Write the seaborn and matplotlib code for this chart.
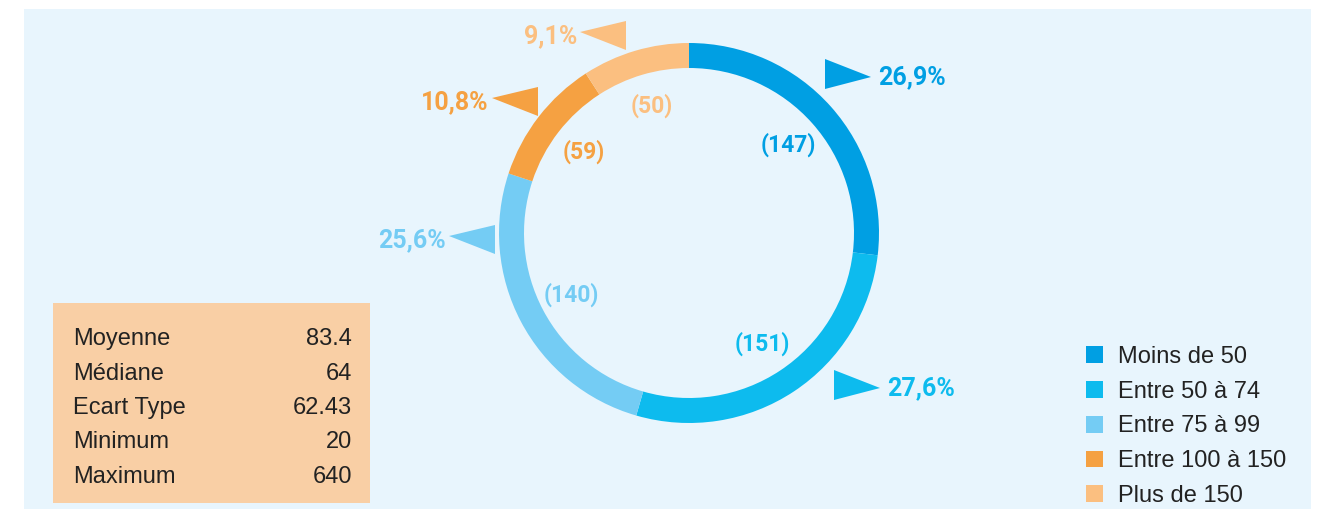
import numpy as np
import matplotlib
matplotlib.use("Agg")
import matplotlib.pyplot as plt
from matplotlib.patches import Rectangle, Polygon
import seaborn as sns

# --- data ---
categories = ["Moins de 50", "Entre 50 à 74", "Entre 75 à 99", "Entre 100 à 150", "Plus de 150"]
counts = [147, 151, 140, 59, 50]
stat_names = ["Moyenne", "Médiane", "Ecart Type", "Minimum", "Maximum"]
stat_values = ["83.4", "64", "62.43", "20", "640"]

colors = ["#009fe3", "#0dbbee", "#74ccf4", "#f5a142", "#fbbf80"]

# --- layout (pixels, origin top-left) ---
W, H = 1322, 509
CX, CY, R = 689, 233, 190
RING = 25
# pointer triangles: tip x, tip y, direction (+1 -> pointing right)
pointers = [(871, 77, 1), (880, 388, 1), (449, 236, -1), (492, 98, -1), (580, 32, -1)]

sns.set_theme(style="white")
plt.rcParams["font.family"] = ["Liberation Sans", "DejaVu Sans"]

fig = plt.figure(figsize=(W / 100, H / 100), dpi=100)
fig.patch.set_facecolor("white")

# overlay in pixel coordinates
bg = fig.add_axes([0, 0, 1, 1])
bg.set_xlim(0, W)
bg.set_ylim(H, 0)
bg.axis("off")
bg.add_patch(Rectangle((24, 9), 1311 - 24, H - 9, color="#e8f5fd", lw=0, zorder=0))

# stats box
bg.add_patch(Rectangle((53, 303), 370 - 53, 503 - 303, color="#f9cfa5", lw=0, zorder=1))
for i, (name, val) in enumerate(zip(stat_names, stat_values)):
    y = 345 + i * 34.5
    bg.text(73, y, name, fontsize=17, color="#222222", va="baseline", ha="left", zorder=2)
    bg.text(352, y, val, fontsize=17, color="#222222", va="baseline", ha="right", zorder=2)

# donut
ax = fig.add_axes([(CX - 200) / W, (H - CY - 200) / H, 400 / W, 400 / H])
ax.patch.set_alpha(0)
wedges, _ = ax.pie(counts, colors=colors, startangle=90, counterclock=False,
                   radius=1, wedgeprops=dict(width=RING / R, linewidth=0))
ax.set_xlim(-200 / R, 200 / R)
ax.set_ylim(-200 / R, 200 / R)
ax.set_aspect("equal")

total = sum(counts)
for w, c, col, (tx, ty, d) in zip(wedges, counts, colors, pointers):
    mid = np.deg2rad((w.theta1 + w.theta2) / 2)
    ax.text(0.70 * np.cos(mid), 0.70 * np.sin(mid), f"({c})", ha="center", va="center",
            fontsize=16.5, fontweight="bold", color=col, family=["Roboto", "DejaVu Sans"])
    pct = f"{100 * c / total:.1f}%".replace(".", ",")
    bx = tx - 46 * d
    if d > 0:
        tri = [(bx, ty - 18), (bx, ty + 12), (tx, ty)]
        bg.text(tx + 7, ty, pct, ha="left", va="center", fontsize=18, fontweight="bold",
                color=col, family=["Roboto", "DejaVu Sans"])
    else:
        tri = [(bx, ty - 11), (bx, ty + 18), (tx, ty)]
        bg.text(tx - 3, ty + 4, pct, ha="right", va="center", fontsize=18, fontweight="bold",
                color=col, family=["Roboto", "DejaVu Sans"])
    bg.add_patch(Polygon(tri, closed=True, color=col, lw=0, zorder=3))

# legend
leg = fig.legend(wedges, categories, loc="upper left",
                 bbox_to_anchor=(1086 / W, 1 - 346 / H), frameon=False,
                 fontsize=17, handlelength=0.72, handleheight=0.72,
                 handletextpad=0.64, labelspacing=0.54, borderpad=0, borderaxespad=0)
for t in leg.get_texts():
    t.set_color("#222222")

fig.savefig("out.png", dpi=100)
